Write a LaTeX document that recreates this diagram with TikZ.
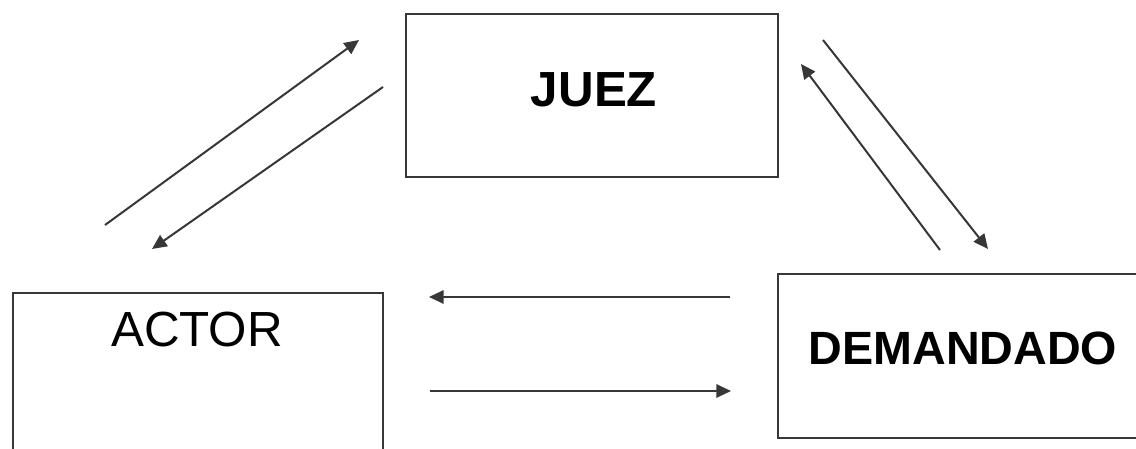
\documentclass[tikz,border=0pt]{standalone}
\usepackage{fontspec}
\setmainfont{Liberation Sans}
\usetikzlibrary{arrows.meta}
\definecolor{edge}{RGB}{55,55,55}
\tikzset{
  boxshape/.style={draw=edge, line width=1.5pt, fill=white, rectangle, inner sep=0pt},
  lbl/.style={font=\fontsize{37}{40}\selectfont, text=black, inner sep=0pt},
  flow/.style={draw=edge, line width=1.5pt, -{Triangle[length=11pt,width=10pt]}}
}
\begin{document}
\begin{tikzpicture}[x=0.75pt,y=-0.75pt]
\useasboundingbox (0,0) rectangle (1136,449);
\clip (0,0) rectangle (1136,449);
\fill[white] (0,0) rectangle (1136,449);
% boxes
\node[boxshape, minimum width=372*0.75pt, minimum height=163*0.75pt] (juez) at (592,95.5) {};
\node[boxshape, minimum width=370*0.75pt, minimum height=200*0.75pt] (actor) at (198,393) {};
\node[boxshape, minimum width=400*0.75pt, minimum height=164*0.75pt] (dem) at (978,356) {};
% texts
\node[lbl, font=\fontsize{37}{40}\selectfont\bfseries] (juezt) at (594,90) {JUEZ};
\node[lbl] (actort) at (197,330) {ACTOR};
\node[lbl, font=\fontsize{35}{40}\selectfont\bfseries] (demt) at (963,348) {DEMANDADO};
% connector ends
\coordinate (a1) at (105,225); \coordinate (a2) at (359,40);
\coordinate (b1) at (383,87);  \coordinate (b2) at (152,249);
\coordinate (c1) at (823,40);  \coordinate (c2) at (988,249);
\coordinate (d1) at (940,250); \coordinate (d2) at (801,64);
\coordinate (e1) at (730,297); \coordinate (e2) at (429,297);
\coordinate (f1) at (430,391); \coordinate (f2) at (731,391);
\draw[flow] (a1) -- (a2);
\draw[flow] (b1) -- (b2);
\draw[flow] (c1) -- (c2);
\draw[flow] (d1) -- (d2);
\draw[flow] (e1) -- (e2);
\draw[flow] (f1) -- (f2);
\end{tikzpicture}
\end{document}
